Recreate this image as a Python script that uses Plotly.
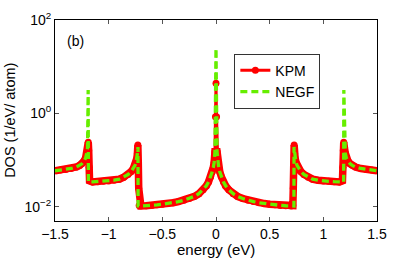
import plotly.graph_objects as go

# ---- data ----
kpm_energy = [-1.50, -1.45, -1.40, -1.35, -1.30, -1.27, -1.25, -1.23, -1.215, -1.205, -1.197, -1.19,
              -1.186, -1.182, -1.178,
              -1.15, -1.10, -1.05, -1.00, -0.95, -0.90, -0.86, -0.82, -0.79, -0.77, -0.755, -0.745, -0.737, -0.732, -0.728,
              -0.724, -0.720, -0.716,
              -0.70, -0.65, -0.60, -0.55, -0.50, -0.45, -0.40, -0.35, -0.30, -0.25, -0.20, -0.16, -0.12, -0.09, -0.07,
              -0.05, -0.035, -0.025, -0.017, -0.01, -0.005, 0.0,
              0.005, 0.01, 0.017, 0.025, 0.035, 0.05,
              0.07, 0.09, 0.12, 0.16, 0.20, 0.25, 0.30, 0.35, 0.40, 0.45, 0.50, 0.55, 0.60, 0.65, 0.70,
              0.716, 0.720, 0.724,
              0.728, 0.732, 0.737, 0.745, 0.755, 0.77, 0.79, 0.82, 0.86, 0.90, 0.95, 1.00, 1.05, 1.10, 1.15,
              1.178, 1.182, 1.186,
              1.19, 1.197, 1.205, 1.215, 1.23, 1.25, 1.27, 1.30, 1.35, 1.40, 1.45, 1.50]
kpm_dos = [0.059, 0.061, 0.063, 0.066, 0.071, 0.077, 0.083, 0.095, 0.11, 0.14, 0.18, 0.24,
           0.16, 0.07, 0.036,
           0.034, 0.0345, 0.035, 0.0355, 0.037, 0.039, 0.043, 0.049, 0.057, 0.066, 0.077, 0.09, 0.11, 0.14, 0.21,
           0.09, 0.025, 0.0106,
           0.0104, 0.0105, 0.0107, 0.011, 0.0113, 0.0117, 0.0122, 0.0129, 0.0138, 0.015, 0.0167, 0.019, 0.023, 0.028, 0.034,
           0.044, 0.056, 0.07, 0.09, 0.15, 0.85, 4.4,
           0.85, 0.15, 0.09, 0.07, 0.056, 0.044,
           0.034, 0.028, 0.023, 0.019, 0.0167, 0.015, 0.0138, 0.0129, 0.0122, 0.0117, 0.0113, 0.011, 0.0107, 0.0105, 0.0104,
           0.0106, 0.025, 0.09,
           0.21, 0.14, 0.11, 0.09, 0.077, 0.066, 0.057, 0.049, 0.043, 0.039, 0.037, 0.0355, 0.035, 0.0345, 0.034,
           0.036, 0.07, 0.16,
           0.24, 0.18, 0.14, 0.11, 0.095, 0.083, 0.077, 0.071, 0.066, 0.063, 0.061, 0.059]

negf_energy = [-1.50, -1.45, -1.40, -1.35, -1.30, -1.27, -1.25, -1.23, -1.215, -1.205, -1.197, -1.191, -1.189,
               -1.15, -1.10, -1.05, -1.00, -0.95, -0.90, -0.86, -0.82, -0.79, -0.77, -0.755, -0.745, -0.737, -0.732, -0.727, -0.726,
               -0.70, -0.65, -0.60, -0.55, -0.50, -0.45, -0.40, -0.35, -0.30, -0.25, -0.20, -0.16, -0.12, -0.09, -0.07,
               -0.05, -0.035, -0.025, -0.017, -0.01, 0.0, 0.01,
               0.017, 0.025, 0.035, 0.05,
               0.07, 0.09, 0.12, 0.16, 0.20, 0.25, 0.30, 0.35, 0.40, 0.45, 0.50, 0.55, 0.60, 0.65, 0.70,
               0.726, 0.727, 0.732, 0.737, 0.745, 0.755, 0.77, 0.79, 0.82, 0.86, 0.90, 0.95, 1.00, 1.05, 1.10, 1.15,
               1.189, 1.191, 1.197, 1.205, 1.215, 1.23, 1.25, 1.27, 1.30, 1.35, 1.40, 1.45, 1.50]
negf_dos = [0.059, 0.061, 0.063, 0.066, 0.071, 0.077, 0.083, 0.095, 0.11, 0.14, 0.18, 3.15, 0.034,
            0.034, 0.0345, 0.035, 0.0355, 0.037, 0.039, 0.043, 0.049, 0.057, 0.066, 0.077, 0.09, 0.11, 0.14, 0.19, 0.0104,
            0.0104, 0.0105, 0.0107, 0.011, 0.0113, 0.0117, 0.0122, 0.0129, 0.0138, 0.015, 0.0167, 0.019, 0.023, 0.028, 0.034,
            0.044, 0.056, 0.07, 0.09, 0.15, 24.5, 0.15,
            0.09, 0.07, 0.056, 0.044,
            0.034, 0.028, 0.023, 0.019, 0.0167, 0.015, 0.0138, 0.0129, 0.0122, 0.0117, 0.0113, 0.011, 0.0107, 0.0105, 0.0104,
            0.0104, 0.19, 0.14, 0.11, 0.09, 0.077, 0.066, 0.057, 0.049, 0.043, 0.039, 0.037, 0.0355, 0.035, 0.0345, 0.034,
            0.034, 3.15, 0.18, 0.14, 0.11, 0.095, 0.083, 0.077, 0.071, 0.066, 0.063, 0.061, 0.059]

x_ticks = [-1.5, -1, -0.5, 0, 0.5, 1, 1.5]
x_tick_labels = ["\u22121.5", "\u22121", "\u22120.5", "0", "0.5", "1", "1.5"]
y_ticks = [0.01, 1, 100]
y_tick_labels = ["10<sup>\u22122</sup>", "10<sup>0</sup>", "10<sup>2</sup>"]

RED = "#ff0000"
GREEN = "#66ee00"
FONT = "Liberation Sans, Arial, sans-serif"

# the thick red band follows the KPM points, except the narrow central spike
band_energy = [e for e, d in zip(kpm_energy, kpm_dos) if d < 0.5]
band_dos = [d for d in kpm_dos if d < 0.5]

fig = go.Figure()
fig.add_trace(go.Scatter(x=band_energy, y=band_dos, mode="lines",
                         line=dict(color=RED, width=7.5), showlegend=False, hoverinfo="skip"))
fig.add_trace(go.Scatter(x=kpm_energy, y=kpm_dos, mode="lines+markers", name="KPM",
                         line=dict(color=RED, width=3),
                         marker=dict(color=RED, size=7, symbol="circle")))
fig.add_trace(go.Scatter(x=negf_energy, y=negf_dos, mode="lines", name="NEGF",
                         line=dict(color=GREEN, width=3.3, dash="7px,4px")))

fig.add_annotation(text="(b)", x=0.03, y=0.898, xref="paper", yref="paper",
                   xanchor="left", yanchor="middle", showarrow=False,
                   font=dict(size=14, color="black", family=FONT))
fig.add_annotation(text="energy (eV)", x=0.4985, y=-0.144, xref="paper", yref="paper",
                   xanchor="center", yanchor="middle", showarrow=False,
                   font=dict(size=15, color="black", family=FONT))
fig.add_annotation(text="DOS (1/eV/ atom)", x=-0.138, y=0.501, xref="paper", yref="paper",
                   xanchor="center", yanchor="middle", showarrow=False, textangle=-90,
                   font=dict(size=14.5, color="black", family=FONT))

fig.update_layout(
    width=415, height=259,
    margin=dict(l=54.5, r=38.3, t=19.5, b=38, autoexpand=False),
    paper_bgcolor="white", plot_bgcolor="white",
    font=dict(family=FONT, size=14, color="black"),
    showlegend=True,
    legend=dict(x=0.557, y=0.832, xanchor="left", yanchor="top",
                bgcolor="white", bordercolor="#333333", borderwidth=1,
                font=dict(size=14, family=FONT), itemwidth=30,
                tracegroupgap=0),
    xaxis=dict(range=[-1.5, 1.5], tickvals=x_ticks, ticktext=x_tick_labels,
               ticks="inside", ticklen=4, tickcolor="#555555",
               showline=True, linecolor="black", linewidth=1, mirror="ticks",
               showgrid=False, zeroline=False, automargin=False,
               tickfont=dict(size=14)),
    yaxis=dict(type="log", range=[-2.305, 2], tickvals=y_ticks, ticktext=y_tick_labels,
               ticks="inside", ticklen=4, tickcolor="#555555",
               showline=True, linecolor="black", linewidth=1, mirror="ticks",
               showgrid=False, zeroline=False, automargin=False,
               tickfont=dict(size=14)),
)

# remove the default page margin so the figure sits at the window's top-left corner
fig.write_html("out.html", config={"displayModeBar": False},
               post_script="document.body.style.margin='0';")
